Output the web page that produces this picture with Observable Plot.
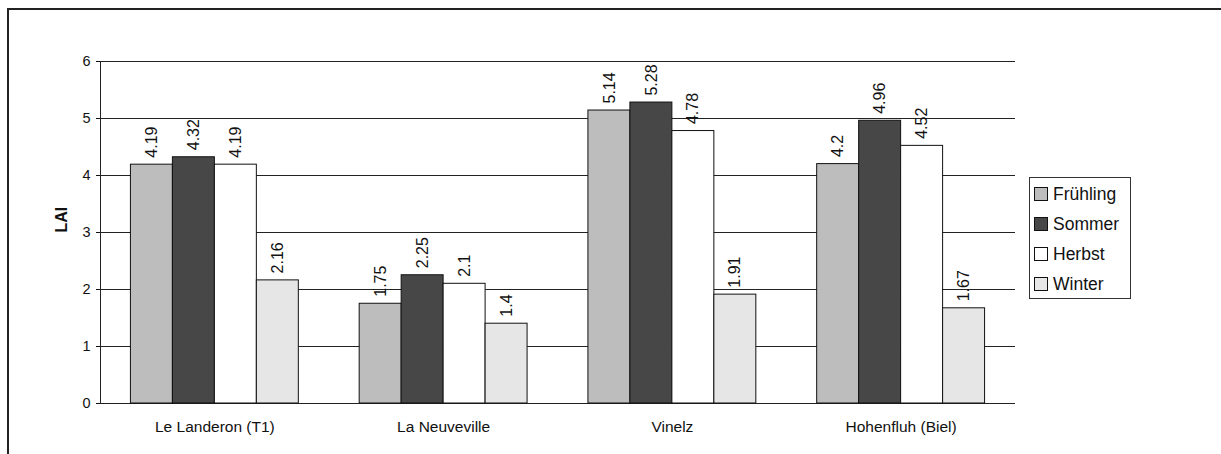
<!DOCTYPE html>
<html>
<head>
<meta charset="utf-8">
<script src="https://cdn.jsdelivr.net/npm/d3@7"></script>
<script src="https://cdn.jsdelivr.net/npm/@observablehq/plot@0.6"></script>
<style>
  html, body { margin: 0; padding: 0; background: #fff; }
  #wrap { position: relative; width: 1221px; height: 454px; overflow: hidden; font-family: "Liberation Sans", Arial, sans-serif; color: #111; }
  #frame { position: absolute; left: 7px; top: 8px; width: 1400px; height: 600px; border-top: 2px solid #222; border-left: 2px solid #222; }
  #chart { position: absolute; left: 0; top: 0; }
  #legend { position: absolute; left: 1029px; top: 177px; width: 102px; height: 122px; border: 1px solid #333; background: #fff; box-sizing: border-box; padding-top: 1px; }
  .item { display: flex; align-items: center; height: 30px; font-size: 17.5px; padding-left: 4px; }
  .sw { width: 14px; height: 14px; border: 1px solid #111; margin-right: 5px; box-sizing: border-box; flex: none; }
  g[aria-label^="x-axis"] text { font-size: 15.5px; }
  g[aria-label^="y-axis"] text { font-size: 14.5px; }
</style>
</head>
<body>
<div id="wrap">
  <div id="frame"></div>
  <div id="chart"></div>
  <div id="legend"></div>
</div>
<script>
// ---- data ----
const sites = ["Le Landeron (T1)", "La Neuveville", "Vinelz", "Hohenfluh (Biel)"];
const seasons = ["Frühling", "Sommer", "Herbst", "Winter"];
const fruehling = [4.19, 1.75, 5.14, 4.2];
const sommer = [4.32, 2.25, 5.28, 4.96];
const herbst = [4.19, 2.1, 4.78, 4.52];
const winter = [2.16, 1.4, 1.91, 1.67];
const yTicks = [0, 1, 2, 3, 4, 5, 6];
const seasonColors = ["#bdbdbd", "#474747", "#ffffff", "#e6e6e6"];

// ---- layout ----
const seriesValues = [fruehling, sommer, herbst, winter];
const siteIdx = sites.map((_, i) => i);
const groupWidth = 0.734;          // fraction of a site slot filled by the group
const barW = groupWidth / seasons.length;

const rows = sites.flatMap((site, i) =>
  seriesValues.map((vals, j) => {
    const x1 = i - groupWidth / 2 + j * barW;
    return { site, season: seasons[j], value: vals[i], x1, x2: x1 + barW, xc: x1 + barW / 2 };
  })
);

const chart = Plot.plot({
  width: 1221,
  height: 454,
  marginLeft: 100,
  marginRight: 206,
  marginTop: 61,
  marginBottom: 51,
  style: { fontFamily: "'Liberation Sans', Arial, sans-serif", fontSize: "15px", color: "#111", background: "transparent", overflow: "visible" },
  x: { type: "linear", domain: [-0.5, sites.length - 0.5], ticks: siteIdx, tickFormat: i => sites[i], tickSize: 0, tickPadding: 17, label: null },
  y: { domain: [0, 6], ticks: yTicks, tickFormat: d => String(d), tickSize: 4, tickPadding: 6, label: null },
  color: { domain: seasons, range: seasonColors },
  marks: [
    Plot.ruleY(yTicks, { stroke: "#222", strokeWidth: 1 }),
    Plot.ruleX([-0.5], { stroke: "#222", strokeWidth: 1 }),
    Plot.rect(rows, { x1: "x1", x2: "x2", y1: d => 0, y2: "value", fill: "season", stroke: "#111", strokeWidth: 1 }),
    Plot.text(rows, { x: "xc", y: "value", text: d => String(d.value), rotate: -90, textAnchor: "start", dy: -7, fontSize: 16, fill: "#111" }),
    Plot.text(["LAI"], { frameAnchor: "left", dx: -39, rotate: -90, fontWeight: "bold", fontSize: 16, fill: "#111" })
  ]
});
document.getElementById("chart").appendChild(chart);

// ---- legend ----
const legend = document.getElementById("legend");
seasons.forEach((s, j) => {
  const item = document.createElement("div");
  item.className = "item";
  const sw = document.createElement("span");
  sw.className = "sw";
  sw.style.background = seasonColors[j];
  const label = document.createElement("span");
  label.textContent = s;
  item.appendChild(sw);
  item.appendChild(label);
  legend.appendChild(item);
});
</script>
</body>
</html>
